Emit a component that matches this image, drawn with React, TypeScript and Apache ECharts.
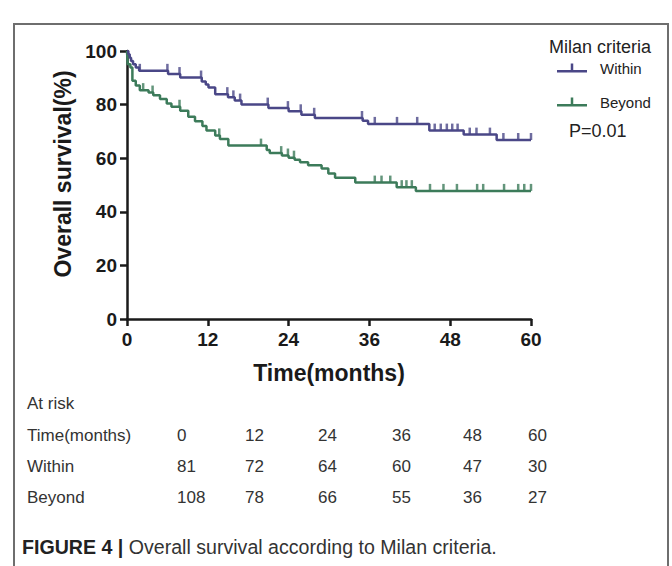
import React, { useEffect, useRef } from "react";
import * as echarts from "echarts";

// ---- Kaplan-Meier data (months, survival %) ----
const withinTime = [0, 0.2, 0.4, 0.6, 0.9, 1.3, 1.8, 6.1, 7.9, 11.1, 11.7, 12.1, 13.1, 15.0, 16.0, 17.0, 21.0, 24.0, 25.9, 27.9, 35.0, 35.8, 44.9, 50.0, 54.9, 60];
const withinSurv = [100, 98.8, 97.5, 96.3, 95.1, 93.8, 92.6, 91.4, 90.1, 88.6, 87.5, 86.4, 83.9, 82.7, 81.5, 80.0, 78.7, 77.5, 76.2, 75.0, 74.0, 72.8, 70.3, 68.8, 66.8, 66.8];
const withinCensored = [1.9, 6.0, 7.8, 11.0, 14.9, 15.8, 16.8, 20.9, 23.9, 25.8, 27.8, 34.9, 36.8, 40.1, 43.1, 45.7, 46.6, 47.5, 48.3, 49.1, 50.9, 51.9, 53.9, 55.9, 58.1, 60.0];

const beyondTime = [0, 0.1, 0.5, 0.8, 1.3, 1.9, 3.2, 3.9, 4.9, 5.9, 6.6, 7.9, 9.1, 10.1, 11.2, 11.8, 13.1, 13.8, 15.05, 20.75, 21.2, 23.0, 24.0, 24.9, 25.7, 26.9, 28.9, 29.9, 30.9, 33.9, 40.05, 42.9, 60];
const beyondSurv = [100, 95.1, 93.8, 88.9, 87.1, 85.4, 84.5, 83.5, 82.1, 80.4, 79.2, 77.7, 75.5, 73.8, 72.0, 70.3, 68.5, 67.2, 64.7, 63.1, 61.9, 61.0, 60.2, 59.4, 58.5, 57.4, 56.2, 54.3, 52.7, 50.9, 49.2, 47.8, 47.8];
const beyondCensored = [2.4, 3.8, 7.8, 13.7, 19.9, 22.9, 23.9, 24.8, 36.8, 37.8, 39.1, 40.8, 41.5, 42.3, 45.0, 47.0, 49.0, 52.0, 52.9, 56.0, 58.1, 59.0, 60.0];

// ---- Number at risk table ----
const riskTimes = [0, 12, 24, 36, 48, 60];
const withinRisk = [81, 72, 64, 60, 47, 30];
const beyondRisk = [108, 78, 66, 55, 36, 27];

const seriesNames = ["Within", "Beyond"];
const legendTitle = "Milan criteria";
const pValueText = "P=0.01";
const xAxisTitle = "Time(months)";
const yAxisTitle = "Overall survival(%)";
const captionBold = "FIGURE 4 |";
const captionText = " Overall survival according to Milan criteria.";

const BLUE = "#4a4787";
const GREEN = "#3c7b5a";
const FONT = "'Liberation Sans', Arial, Helvetica, sans-serif";

function survivalAt(times: number[], surv: number[], t: number): number {
  let v = surv[0];
  for (let i = 0; i < times.length; i++) {
    if (times[i] <= t) v = surv[i];
  }
  return v;
}

export default function App() {
  const ref = useRef<HTMLDivElement>(null);

  useEffect(() => {
    if (!ref.current) return;
    const chart = echarts.init(ref.current, null, { renderer: "svg" });

    const withinData = withinTime.map((t, i) => [t, withinSurv[i]]);
    const beyondData = beyondTime.map((t, i) => [t, beyondSurv[i]]);
    const withinTicks = withinCensored.map((t) => [t, survivalAt(withinTime, withinSurv, t)]);
    const beyondTicks = beyondCensored.map((t) => [t, survivalAt(beyondTime, beyondSurv, t)]);

    const colX = [177, 245, 318, 392, 463, 528];
    const rowLabelX = 27;
    const rows: { label: string; values: (number | string)[]; y: number }[] = [
      { label: "Time(months)", values: riskTimes, y: 435 },
      { label: seriesNames[0], values: withinRisk, y: 466.5 },
      { label: seriesNames[1], values: beyondRisk, y: 497.5 },
    ];
    const tableStyle = { fontSize: 17, fontFamily: FONT, fill: "#333" };
    const tableGraphics: any[] = [
      { type: "text", x: rowLabelX, y: 403, style: { ...tableStyle, text: "At risk", verticalAlign: "middle" } },
    ];
    rows.forEach((r) => {
      tableGraphics.push({ type: "text", x: rowLabelX, y: r.y, style: { ...tableStyle, text: r.label, verticalAlign: "middle" } });
      r.values.forEach((v, i) => {
        tableGraphics.push({ type: "text", x: colX[i], y: r.y, style: { ...tableStyle, text: String(v), verticalAlign: "middle" } });
      });
    });

    const legendIcon = "path://M0,7.5 H30 V10 H0 Z M13.75,1 H16.25 V8 H13.75 Z";

    const option: any = {
      animation: false,
      backgroundColor: "#ffffff",
      title: {
        text: legendTitle,
        left: 549,
        top: 38,
        padding: 0,
        textStyle: { fontSize: 18, fontWeight: "normal", fontFamily: FONT, color: "#222" },
      },
      legend: {
        data: seriesNames,
        orient: "vertical",
        left: 557,
        top: 60.5,
        padding: 0,
        itemWidth: 30,
        itemHeight: 10,
        itemGap: 19,
        icon: legendIcon,
        textStyle: { fontSize: 15, fontFamily: FONT, color: "#222", padding: [0, 0, 0, 8] },
        selectedMode: false,
      },
      grid: { left: 127, top: 51, right: 141, bottom: 247, containLabel: false },
      xAxis: {
        type: "value",
        min: 0,
        max: 60,
        interval: 12,
        name: xAxisTitle,
        nameLocation: "middle",
        nameGap: 54,
        nameTextStyle: { fontSize: 23, fontWeight: "bold", fontFamily: FONT, color: "#1a1a1a", verticalAlign: "middle" },
        axisLine: { show: true, onZero: false, lineStyle: { color: "#1a1a1a", width: 2.5 } },
        axisTick: { show: true, length: 7, lineStyle: { color: "#1a1a1a", width: 2.5 } },
        axisLabel: { fontSize: 19, fontWeight: "bold", fontFamily: FONT, color: "#1a1a1a", margin: 11 },
        splitLine: { show: false },
      },
      yAxis: {
        type: "value",
        min: 0,
        max: 100,
        interval: 20,
        axisLine: { show: true, onZero: false, lineStyle: { color: "#1a1a1a", width: 2.5 } },
        axisTick: { show: true, length: 7, lineStyle: { color: "#1a1a1a", width: 2.5 } },
        axisLabel: { fontSize: 19, fontWeight: "bold", fontFamily: FONT, color: "#1a1a1a", margin: 10 },
        splitLine: { show: false },
      },
      series: [
        {
          name: seriesNames[0],
          type: "line",
          step: "end",
          data: withinData,
          showSymbol: false,
          symbol: "none",
          color: BLUE,
          lineStyle: { color: BLUE, width: 2.5 },
          z: 3,
        },
        {
          name: seriesNames[1],
          type: "line",
          step: "end",
          data: beyondData,
          showSymbol: false,
          symbol: "none",
          color: GREEN,
          lineStyle: { color: GREEN, width: 2.5 },
          z: 2,
        },
        {
          name: "Within censored",
          type: "scatter",
          data: withinTicks,
          symbol: "rect",
          symbolSize: [2.5, 7],
          symbolOffset: [0, -3.5],
          itemStyle: { color: BLUE },
          z: 3,
        },
        {
          name: "Beyond censored",
          type: "scatter",
          data: beyondTicks,
          symbol: "rect",
          symbolSize: [2.5, 7],
          symbolOffset: [0, -3.5],
          itemStyle: { color: GREEN },
          z: 2,
        },
      ],
      graphic: [
        {
          type: "rect",
          shape: { x: 14, y: 24, width: 654, height: 620 },
          style: { fill: "none", stroke: "#6e6e6e", lineWidth: 2 },
          silent: true,
        },
        {
          type: "text",
          x: 63,
          y: 174,
          rotation: Math.PI / 2,
          style: { text: yAxisTitle, fontSize: 23, fontWeight: "bold", fontFamily: FONT, fill: "#1a1a1a", align: "center", verticalAlign: "middle" },
        },
        {
          type: "text",
          x: 569,
          y: 131,
          style: { text: pValueText, fontSize: 18, fontFamily: FONT, fill: "#222", verticalAlign: "middle" },
        },
        ...tableGraphics,
        {
          type: "text",
          x: 22,
          y: 547,
          style: {
            text: `{b|${captionBold}}{r|${captionText}}`,
            verticalAlign: "middle",
            rich: {
              b: { fontSize: 19.6, fontWeight: "bold", fontFamily: FONT, fill: "#222", color: "#222" },
              r: { fontSize: 19.6, fontFamily: FONT, fill: "#333", color: "#333" },
            },
          },
        },
      ],
    };

    chart.setOption(option);
    return () => chart.dispose();
  }, []);

  return (
    <div
      ref={ref}
      style={{ position: "absolute", left: 0, top: 0, width: 672, height: 566, background: "#fff" }}
    />
  );
}
